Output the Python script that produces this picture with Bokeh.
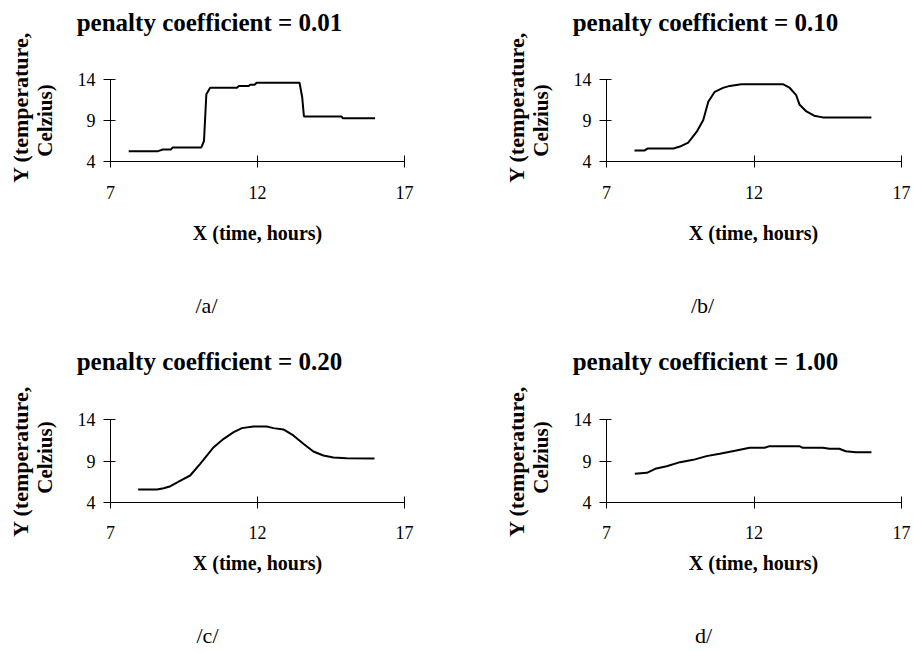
import math

from bokeh.plotting import figure
from bokeh.models import Range1d
from bokeh.core.properties import value
from bokeh.layouts import column, row
from bokeh.embed import file_html
from bokeh.resources import INLINE

SERIF = "Liberation Serif"

# Temperature traces (hours, Celsius) for each penalty coefficient
hours_001 = [7.62, 8.62, 8.78, 9.05, 9.12, 10.09, 10.18, 10.26, 10.39, 11.31, 11.36,
             11.70, 11.75, 11.90, 11.97, 13.43, 13.52, 13.58, 14.86, 14.90, 16.00]
temp_001 = [5.26, 5.26, 5.46, 5.46, 5.72, 5.72, 6.50, 12.20, 13.00, 13.00, 13.20,
            13.20, 13.35, 13.35, 13.60, 13.60, 11.84, 9.49, 9.49, 9.28, 9.28]

hours_010 = [7.95, 8.28, 8.39, 9.27, 9.49, 9.77, 10.06, 10.28, 10.45, 10.67, 10.95,
             11.18, 11.57, 12.98, 13.20, 13.43, 13.54, 13.76, 14.04, 14.33, 15.98]
temp_010 = [5.33, 5.33, 5.58, 5.58, 5.82, 6.30, 7.64, 9.06, 11.28, 12.50, 12.98,
            13.22, 13.43, 13.43, 13.02, 12.09, 10.96, 10.15, 9.58, 9.38, 9.38]

hours_020 = [7.94, 8.58, 8.81, 9.04, 9.38, 9.71, 10.05, 10.51, 10.85, 11.19, 11.47,
             11.86, 12.32, 12.54, 12.88, 13.22, 13.56, 13.90, 14.24, 14.58, 15.03, 15.98]
temp_020 = [5.54, 5.54, 5.70, 5.94, 6.63, 7.24, 8.66, 10.68, 11.69, 12.50, 12.99,
            13.19, 13.19, 12.99, 12.83, 12.10, 11.09, 10.15, 9.67, 9.43, 9.34, 9.30]

hours_100 = [7.96, 8.37, 8.65, 9.04, 9.49, 9.94, 10.39, 10.84, 11.40, 11.85, 12.36,
             12.53, 13.54, 13.65, 14.33, 14.56, 14.89, 15.11, 15.45, 15.98]
temp_100 = [7.44, 7.56, 8.05, 8.37, 8.86, 9.14, 9.59, 9.87, 10.28, 10.60, 10.60,
            10.80, 10.80, 10.60, 10.60, 10.49, 10.49, 10.19, 10.07, 10.07]

x_ticks = [7, 12, 17]
y_ticks = [4, 9, 14]
titles = ["penalty coefficient = 0.01", "penalty coefficient = 0.10",
          "penalty coefficient = 0.20", "penalty coefficient = 1.00"]
tags = ["/a/", "/b/", "/c/", "d/"]
x_title = "X (time, hours)"
y_title_lines = ["Y (temperature,", "Celzius)"]

X0, X1 = 7, 17
Y0, Y1 = 4, 14


def make_panel(title, tag, hours, temps, size, origin, scale, spots):
    """One chart drawn into a canvas of `size` px; `origin` is the pixel
    position of (7 h, 4 C) and `scale` the px per hour / per degree."""
    pw, ph = size
    ox, oy = origin
    kx, ky = scale
    p = figure(title=None, frame_width=pw, frame_height=ph,
               x_range=Range1d(X0 - ox / kx, X0 + (pw - ox) / kx),
               y_range=Range1d(Y0 - (ph - oy) / ky, Y0 + oy / ky),
               output_backend="svg", toolbar_location=None,
               min_border=0)
    p.outline_line_color = None
    p.grid.visible = False
    p.background_fill_color = "white"
    p.border_fill_color = "white"

    for ax in (p.xaxis[0], p.yaxis[0]):
        ax.axis_line_color = "black"
        ax.axis_line_width = 1
        ax.major_tick_line_color = "black"
        ax.minor_tick_line_color = None
        ax.major_label_text_font = SERIF
        ax.major_label_text_font_size = "18px"
        ax.major_label_text_color = "black"

    p.xaxis.fixed_location = Y0
    p.xaxis.bounds = (X0, X1)
    p.xaxis.ticker = x_ticks
    p.xaxis.major_tick_in = 6
    p.xaxis.major_tick_out = 6
    p.xaxis.major_label_standoff = 18

    p.yaxis.fixed_location = X0
    p.yaxis.bounds = (Y0, Y1)
    p.yaxis.ticker = y_ticks
    p.yaxis.major_tick_in = 5
    p.yaxis.major_tick_out = 7
    p.yaxis.major_label_standoff = 8

    p.line(hours, temps, line_color="black", line_width=2)

    def put(text, px, py, size_px, bold=False, angle=0.0):
        p.text(x=[X0 + (px - ox) / kx], y=[Y0 + (oy - py) / ky], text=[text],
               text_font=value(SERIF), text_font_size=value(f"{size_px}px"),
               text_font_style="bold" if bold else "normal",
               text_color="black", text_align="center",
               text_baseline="middle", angle=angle)

    put(title, *spots["title"], 25, bold=True)
    put(x_title, *spots["xtitle"], 20, bold=True)
    put(tag, *spots["tag"], 22)
    put(y_title_lines[0], *spots["y1"], 22, bold=True, angle=math.pi / 2)
    put(y_title_lines[1], *spots["y2"], 21, bold=True, angle=math.pi / 2)
    return p


top_spots = dict(title=(209, 22), xtitle=(257, 232), tag=(206, 305),
                 y1=(20, 107), y2=(44, 120))
bottom_spots = dict(title=(209, 35), xtitle=(257, 236), tag=(207, 309),
                    y1=(20, 135), y2=(44, 131))


def shifted(spots, dx):
    return {k: (x + dx, y) for k, (x, y) in spots.items()}


pa = make_panel(titles[0], tags[0], hours_001, temp_001, (456, 326), (110, 161),
                (29.4, 8.2), top_spots)
pb = make_panel(titles[1], tags[1], hours_010, temp_010, (457, 326), (150, 161),
                (29.5, 8.2), shifted(top_spots, 40))
pc = make_panel(titles[2], tags[2], hours_020, temp_020, (456, 327), (110, 175.7),
                (29.4, 8.24), bottom_spots)
pd = make_panel(titles[3], tags[3], hours_100, temp_100, (457, 327), (150, 175.7),
                (29.5, 8.24), shifted(bottom_spots, 40))

layout = column(row(pa, pb), row(pc, pd))

with open("out.html", "w") as f:
    f.write(file_html(layout, INLINE))
